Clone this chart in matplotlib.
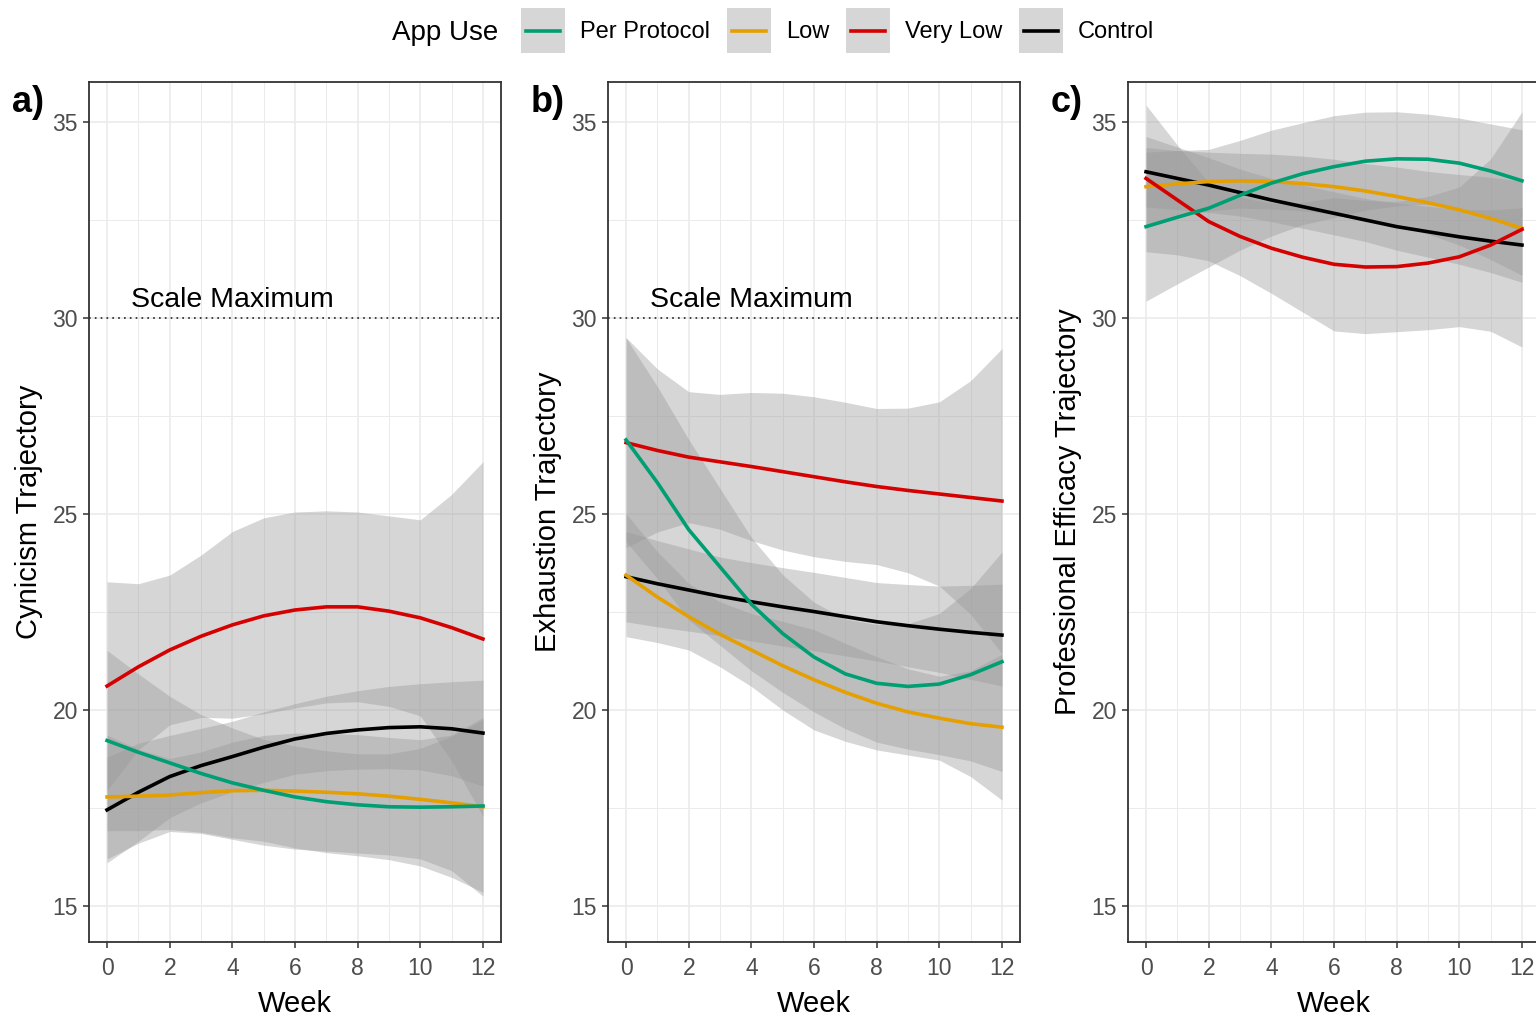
import matplotlib
matplotlib.use("Agg")
import matplotlib.pyplot as plt
from matplotlib.patches import Rectangle
from matplotlib.lines import Line2D

plt.rcParams['font.family'] = ['Liberation Sans', 'DejaVu Sans']

W, H = 1536, 1019

weeks = [0, 1, 2, 3, 4, 5, 6, 7, 8, 9, 10, 11, 12]
groups = ["Control", "Low", "Very Low", "Per Protocol"]   # drawing order
legend_order = ["Per Protocol", "Low", "Very Low", "Control"]
colors = {"Per Protocol": "#009E73", "Low": "#E69F00",
          "Very Low": "#D50000", "Control": "#000000"}

# ---- panel a: cynicism ----
cyn_mean = {
    "Very Low":     [20.61, 21.10, 21.53, 21.88, 22.17, 22.40, 22.55, 22.63, 22.63, 22.52, 22.35, 22.10, 21.81],
    "Per Protocol": [19.22, 18.92, 18.65, 18.38, 18.14, 17.95, 17.78, 17.66, 17.58, 17.53, 17.52, 17.53, 17.55],
    "Low":          [17.78, 17.80, 17.83, 17.89, 17.94, 17.95, 17.93, 17.90, 17.86, 17.80, 17.72, 17.63, 17.53],
    "Control":      [17.45, 17.90, 18.30, 18.58, 18.81, 19.05, 19.26, 19.40, 19.49, 19.55, 19.57, 19.52, 19.41],
}
cyn_lo = {
    "Very Low":     [17.95, 18.98, 19.62, 19.81, 19.79, 19.90, 20.05, 20.18, 20.21, 20.09, 19.85, 18.70, 17.29],
    "Per Protocol": [16.92, 16.92, 16.95, 16.88, 16.74, 16.65, 16.48, 16.36, 16.28, 16.18, 16.02, 15.73, 15.35],
    "Low":          [16.20, 16.60, 16.90, 16.85, 16.70, 16.55, 16.45, 16.40, 16.35, 16.30, 16.20, 15.90, 15.25],
    "Control":      [16.10, 16.65, 17.25, 17.63, 17.91, 18.15, 18.36, 18.45, 18.49, 18.50, 18.47, 18.32, 18.06],
}
cyn_hi = {
    "Very Low":     [23.27, 23.22, 23.44, 23.95, 24.55, 24.90, 25.05, 25.08, 25.05, 24.95, 24.85, 25.50, 26.33],
    "Per Protocol": [21.52, 20.92, 20.35, 19.88, 19.54, 19.25, 19.08, 18.96, 18.88, 18.88, 19.02, 19.33, 19.75],
    "Low":          [19.36, 19.00, 18.76, 18.93, 19.18, 19.35, 19.41, 19.40, 19.37, 19.30, 19.24, 19.36, 19.81],
    "Control":      [18.80, 19.15, 19.35, 19.53, 19.71, 19.95, 20.16, 20.35, 20.49, 20.60, 20.67, 20.72, 20.76],
}

# ---- panel b: exhaustion ----
exh_mean = {
    "Very Low":     [26.82, 26.62, 26.45, 26.33, 26.21, 26.08, 25.95, 25.82, 25.70, 25.60, 25.51, 25.42, 25.33],
    "Per Protocol": [26.89, 25.80, 24.60, 23.65, 22.70, 21.95, 21.35, 20.92, 20.68, 20.60, 20.66, 20.90, 21.23],
    "Low":          [23.44, 22.88, 22.38, 21.93, 21.53, 21.13, 20.77, 20.45, 20.17, 19.95, 19.79, 19.65, 19.56],
    "Control":      [23.40, 23.22, 23.06, 22.90, 22.76, 22.63, 22.51, 22.38, 22.25, 22.15, 22.06, 21.98, 21.91],
}
exh_lo = {
    "Very Low":     [24.14, 24.54, 24.78, 24.61, 24.32, 24.08, 23.91, 23.79, 23.71, 23.50, 23.16, 22.44, 21.44],
    "Per Protocol": [24.29, 23.35, 22.30, 21.65, 21.00, 20.45, 19.95, 19.52, 19.18, 19.00, 18.86, 18.70, 18.43],
    "Low":          [21.87, 21.72, 21.53, 21.10, 20.60, 20.00, 19.49, 19.20, 18.98, 18.85, 18.72, 18.30, 17.70],
    "Control":      [22.25, 22.12, 22.01, 21.90, 21.76, 21.63, 21.51, 21.38, 21.25, 21.10, 20.96, 20.78, 20.61],
}
exh_hi = {
    "Very Low":     [29.50, 28.70, 28.12, 28.05, 28.10, 28.08, 27.99, 27.85, 27.69, 27.70, 27.86, 28.40, 29.22],
    "Per Protocol": [29.49, 28.25, 26.90, 25.65, 24.40, 23.45, 22.75, 22.32, 22.18, 22.20, 22.46, 23.10, 24.03],
    "Low":          [25.01, 24.04, 23.23, 22.76, 22.46, 22.26, 22.05, 21.70, 21.36, 21.05, 20.86, 21.00, 21.42],
    "Control":      [24.55, 24.32, 24.11, 23.90, 23.76, 23.63, 23.51, 23.38, 23.25, 23.20, 23.16, 23.18, 23.21],
}

# ---- panel c: professional efficacy ----
eff_mean = {
    "Very Low":     [33.56, 33.01, 32.46, 32.08, 31.78, 31.55, 31.37, 31.30, 31.31, 31.40, 31.56, 31.86, 32.26],
    "Per Protocol": [32.33, 32.57, 32.80, 33.13, 33.44, 33.68, 33.86, 34.00, 34.06, 34.05, 33.95, 33.75, 33.50],
    "Low":          [33.35, 33.42, 33.48, 33.50, 33.48, 33.43, 33.35, 33.24, 33.10, 32.94, 32.76, 32.54, 32.29],
    "Control":      [33.73, 33.56, 33.39, 33.20, 33.01, 32.84, 32.67, 32.50, 32.33, 32.20, 32.07, 31.96, 31.86],
}
eff_lo = {
    "Very Low":     [31.69, 31.61, 31.46, 31.08, 30.63, 30.15, 29.67, 29.60, 29.65, 29.70, 29.78, 29.66, 29.26],
    "Per Protocol": [30.43, 30.87, 31.30, 31.73, 32.09, 32.38, 32.56, 32.75, 32.86, 32.90, 32.80, 32.55, 32.20],
    "Low":          [32.35, 32.57, 32.73, 32.80, 32.78, 32.73, 32.65, 32.54, 32.35, 32.14, 31.86, 31.49, 31.09],
    "Control":      [32.83, 32.76, 32.69, 32.60, 32.46, 32.29, 32.12, 31.95, 31.73, 31.55, 31.37, 31.16, 30.91],
}
eff_hi = {
    "Very Low":     [35.43, 34.41, 33.46, 33.08, 32.93, 32.95, 33.07, 33.00, 32.97, 33.10, 33.34, 34.06, 35.26],
    "Per Protocol": [34.23, 34.27, 34.30, 34.53, 34.79, 34.98, 35.16, 35.25, 35.26, 35.20, 35.10, 34.95, 34.80],
    "Low":          [34.35, 34.27, 34.23, 34.20, 34.18, 34.13, 34.05, 33.94, 33.85, 33.74, 33.66, 33.59, 33.49],
    "Control":      [34.63, 34.36, 34.09, 33.80, 33.56, 33.39, 33.22, 33.05, 32.93, 32.85, 32.77, 32.76, 32.81],
}

panels = [
    ("a)", "Cynicism Trajectory", cyn_mean, cyn_lo, cyn_hi, True, 89),
    ("b)", "Exhaustion Trajectory", exh_mean, exh_lo, exh_hi, True, 608),
    ("c)", "Professional Efficacy Trajectory", eff_mean, eff_lo, eff_hi, False, 1128),
]
scale_max = 30

fig = plt.figure(figsize=(W / 100, H / 100), dpi=100)

for tag, ylab, mean, lo, hi, show_max, left in panels:
    ax = fig.add_axes([left / W, 1 - 942 / H, 412 / W, 860 / H])
    ax.set_xlim(-0.576, 12.576)
    ax.set_ylim(14.08, 36.02)
    ax.set_xticks(range(0, 13, 2))
    ax.set_xticks(range(1, 13, 2), minor=True)
    ax.set_yticks(range(15, 36, 5))
    ax.set_yticks([17.5, 22.5, 27.5, 32.5], minor=True)
    ax.grid(which='major', color='#EBEBEB', lw=1.2)
    ax.grid(which='minor', color='#EBEBEB', lw=0.7)
    ax.set_axisbelow(True)
    ax.tick_params(which='major', direction='out', length=4, width=1.1,
                   color='#333333', labelcolor='#4D4D4D', labelsize=16.5, pad=4)
    ax.tick_params(axis='x', which='major', pad=7)
    ax.tick_params(which='minor', length=0)
    for s in ax.spines.values():
        s.set_color('#333333')
        s.set_linewidth(1.3)

    for g in groups:
        ax.fill_between(weeks, lo[g], hi[g], color='#999999', alpha=0.4, lw=0)
        ax.plot(weeks, mean[g], color=colors[g], lw=2.6)

    if show_max:
        ax.axhline(scale_max, color='#222222', lw=1.2, ls=(0, (1, 2.5)))
        ax.text(4, scale_max + 0.47, "Scale Maximum", ha='center', va='center',
                fontsize=20.5, color='black')

    ax.set_ylabel(ylab, fontsize=21)
    ax.yaxis.set_label_coords(-0.112, 0.5)
    ax.set_xlabel("Week", fontsize=21)
    ax.xaxis.set_label_coords(0.5, -0.056)

    fig.text((left - 77) / W, 1 - 102 / H, tag, fontsize=26, fontweight='bold',
             ha='left', va='center')

# legend across the top
fig.text(392 / W, 1 - 33 / H, "App Use", fontsize=20, ha='left', va='center')
box_left = {"Per Protocol": 521, "Low": 727, "Very Low": 846, "Control": 1019}
for g in legend_order:
    bx = box_left[g]
    fig.add_artist(Rectangle((bx / W, 1 - 53 / H), 44 / W, 45 / H,
                             transform=fig.transFigure, facecolor='#D6D6D6',
                             edgecolor='none'))
    fig.add_artist(Line2D([(bx + 5) / W, (bx + 39) / W], [1 - 31 / H, 1 - 31 / H],
                          transform=fig.transFigure, color=colors[g], lw=2.6))
    fig.text((bx + 59) / W, 1 - 32 / H, g, fontsize=17, ha='left', va='center')

fig.savefig("out.png", dpi=100)
